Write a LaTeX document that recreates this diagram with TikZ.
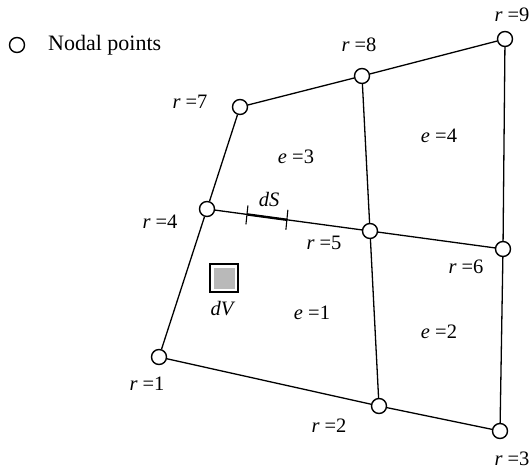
\documentclass[tikz,border=0pt]{standalone}
\usepackage{fontspec}
\setmainfont{Liberation Serif}
\usetikzlibrary{calc}

\begin{document}
\begin{tikzpicture}[
    x=1pt, y=-1pt,
    nodal/.style={circle, draw, fill=white, line width=1.4pt, minimum size=15pt, inner sep=0pt},
    edge/.style={line width=1.3pt},
    lbl/.style={font=\fontsize{20.5}{24}\selectfont, inner sep=0pt},
    tick/.style={line width=1.1pt}
]
    \useasboundingbox (0,0) rectangle (530,471);

    % Nodal points
    \node[nodal] (n1) at (159,357) {};
    \node[nodal] (n2) at (379,406) {};
    \node[nodal] (n3) at (500,431) {};
    \node[nodal] (n4) at (207,209) {};
    \node[nodal] (n5) at (370,231) {};
    \node[nodal] (n6) at (503,249) {};
    \node[nodal] (n7) at (240,107) {};
    \node[nodal] (n8) at (362,76) {};
    \node[nodal] (n9) at (505,39) {};
    \node[nodal] (legend) at (17,45) {};

    % Element edges
    \draw[edge] (n1) -- (n2);
    \draw[edge] (n2) -- (n3);
    \draw[edge] (n4) -- (n5);
    \draw[edge] (n5) -- (n6);
    \draw[edge] (n7) -- (n8);
    \draw[edge] (n8) -- (n9);
    \draw[edge] (n1) -- (n4);
    \draw[edge] (n4) -- (n7);
    \draw[edge] (n2) -- (n5);
    \draw[edge] (n5) -- (n8);
    \draw[edge] (n3) -- (n6);
    \draw[edge] (n6) -- (n9);

    % Surface element
    \coordinate (dsa) at ($(n4)!0.245!(n5)$);
    \coordinate (dsb) at ($(n4)!0.49!(n5)$);
    \draw[line width=2.4pt] (dsa) -- (dsb);
    \draw[tick] ($(dsa)+(1,-9)$) -- ($(dsa)+(-1,10)$);
    \draw[tick] ($(dsb)+(1,-10)$) -- ($(dsb)+(-1,10)$);

    % Volume element
    \node[draw, fill=white, line width=1.8pt, minimum size=28.5pt, inner sep=0pt] (dv) at (224,278) {};
    \node[fill=gray!55, minimum size=21pt, inner sep=0pt] (dvcore) at (dv.center) {};

    % Labels
    \node[lbl, anchor=west, font=\fontsize{22}{26}\selectfont] (ltext) at (48,45) {Nodal points};
    \node[lbl] (r1) at (147,384) {\textit{r} =1};
    \node[lbl] (r2) at (329,426) {\textit{r} =2};
    \node[lbl] (r3) at (512,459) {\textit{r} =3};
    \node[lbl] (r4) at (160,222) {\textit{r} =4};
    \node[lbl] (r5) at (324,243) {\textit{r} =5};
    \node[lbl] (r6) at (466,267) {\textit{r} =6};
    \node[lbl] (r7) at (190,102) {\textit{r} =7};
    \node[lbl] (r8) at (359,45) {\textit{r} =8};
    \node[lbl] (r9) at (512,15) {\textit{r} =9};
    \node[lbl] (e1) at (312,313) {\textit{e} =1};
    \node[lbl] (e2) at (439,332) {\textit{e} =2};
    \node[lbl] (e3) at (296,157) {\textit{e} =3};
    \node[lbl] (e4) at (439,136) {\textit{e} =4};
    \node[lbl] (ds) at (269,199) {\textit{dS}};
    \node[lbl] (dvl) at (223,309) {\textit{dV}};
\end{tikzpicture}
\end{document}
